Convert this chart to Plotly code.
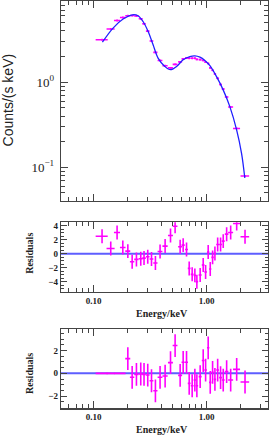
import plotly.graph_objects as go

# ---- data ----
energy = [0.1185, 0.1415, 0.161, 0.181, 0.2005, 0.219, 0.239, 0.261, 0.279, 0.301,
          0.325, 0.352, 0.387, 0.429, 0.479, 0.526, 0.583, 0.62, 0.664, 0.701,
          0.745, 0.787, 0.82, 0.877, 0.933, 0.98, 1.033, 1.077, 1.13, 1.185,
          1.253, 1.33, 1.404, 1.505, 1.634, 1.847, 2.19]
energy_halfwidth = [0.0145, 0.0116, 0.0099, 0.0103, 0.0102, 0.0098, 0.0107, 0.0107, 0.0102, 0.011,
                    0.0126, 0.0151, 0.019, 0.0228, 0.0244, 0.0258, 0.0238, 0.0202, 0.0203, 0.020,
                    0.0213, 0.0193, 0.0217, 0.0268, 0.0266, 0.026, 0.0253, 0.0242, 0.0277, 0.029,
                    0.0358, 0.038, 0.043, 0.0553, 0.0833, 0.132, 0.192]
counts = [3.15, 4.21, 5.31, 5.75, 6.03, 6.06, 5.99, 5.55, 4.85, 3.98,
          3.04, 2.24, 1.80, 1.56, 1.47, 1.62, 1.73, 1.88, 1.93, 1.91,
          1.91, 1.91, 1.85, 1.84, 1.80, 1.72, 1.66, 1.47, 1.38, 1.25,
          1.11, 0.94, 0.83, 0.67, 0.51, 0.286, 0.079]

model_energy = [0.1194, 0.1483, 0.182, 0.2204, 0.247, 0.2735, 0.3034, 0.3357, 0.3715, 0.4266,
                0.4786, 0.542, 0.620, 0.711, 0.787, 0.873, 0.966, 1.07, 1.225, 1.402,
                1.607, 1.845, 2.04, 2.18]
model_counts = [2.95, 4.32, 5.51, 6.19, 6.03, 5.16, 3.94, 2.75, 1.92, 1.53,
                1.40, 1.53, 1.83, 2.00, 2.04, 1.97, 1.80, 1.56, 1.16, 0.812,
                0.516, 0.275, 0.146, 0.0748]

resid1 = [2.5, 0.76, 3.05, 0.9, 0.38, -1.14, -0.81, -0.71, -0.62, -0.43,
          -0.76, -1.33, 0.33, 1.1, 2.62, 3.95, 1.0, 1.24, 0.62, -2.1,
          -2.95, -3.1, -4.0, -3.05, -1.62, -2.62, 0.24, -2.19, -0.52, 0.05,
          1.33, 1.33, 1.81, 2.81, 3.05, 4.33, 2.43]
resid1_err = [1] * 37

resid2 = [0, 0, 0, 0, 1.29, -0.35, -0.09, -0.06, -0.09, -0.15,
          -0.65, -1.53, -0.35, -0.24, 0.94, 2.44, -0.18, 0.97, 0.97, -0.88,
          -1.09, -0.59, -1.09, -0.29, 1.12, 0.29, 2.24, -0.79, 0.09, -0.53,
          0.29, -0.38, -0.59, 0.15, -0.59, 0.35, -0.76]
resid2_err = [0, 0, 0, 0] + [1] * 33

x_major = [0.1, 1]
x_major_text = ["0.10", "1.00"]
x_minor = [0.06, 0.07, 0.08, 0.09, 0.2, 0.3, 0.4, 0.5, 0.6, 0.7, 0.8, 0.9, 2, 3]
y_major = [0.1, 1]
y_major_text = ["10<sup>−1</sup>", "10<sup>0</sup>"]
y_minor = [0.05, 0.06, 0.07, 0.08, 0.09, 0.2, 0.3, 0.4, 0.5, 0.6, 0.7, 0.8, 0.9, 2, 3, 4, 5, 6, 7, 8, 9]

MAG = "#ff00ff"
BLUE = "#2020ff"
AX = "#444444"
SERIF = "Liberation Serif"

fig = go.Figure()

fig.add_trace(go.Scatter(
    x=energy, y=counts, mode="markers", marker=dict(size=1, color=MAG),
    error_x=dict(type="data", array=energy_halfwidth, color=MAG, thickness=1.6, width=0),
    error_y=dict(type="percent", value=2.5, color=MAG, thickness=1.6, width=0),
    xaxis="x", yaxis="y", showlegend=False))
fig.add_trace(go.Scatter(
    x=model_energy, y=model_counts, mode="lines", line=dict(color=BLUE, width=1.3, shape="spline"),
    xaxis="x", yaxis="y", showlegend=False))

fig.add_trace(go.Scatter(
    x=energy, y=resid1, mode="markers", marker=dict(size=1, color=MAG),
    error_x=dict(type="data", array=energy_halfwidth, color=MAG, thickness=1.6, width=0),
    error_y=dict(type="data", array=resid1_err, color=MAG, thickness=1.6, width=0),
    xaxis="x2", yaxis="y2", showlegend=False, cliponaxis=False))
fig.add_trace(go.Scatter(
    x=energy, y=resid2, mode="markers", marker=dict(size=1, color=MAG),
    error_x=dict(type="data", array=energy_halfwidth, color=MAG, thickness=1.6, width=0),
    error_y=dict(type="data", array=resid2_err, color=MAG, thickness=1.6, width=0),
    xaxis="x3", yaxis="y3", showlegend=False))

xr = [-1.29, 0.544]


def xax(show_labels, anchor, matches=None):
    d = dict(type="log", range=xr, anchor=anchor, domain=[0, 1],
             showline=True, linecolor=AX, linewidth=1.3, mirror="ticks",
             ticks="inside", ticklen=7, tickwidth=1, tickcolor=AX,
             tickvals=x_major, ticktext=x_major_text, showticklabels=show_labels,
             tickfont=dict(family=SERIF, size=9, color="#222", weight="bold"),
             minor=dict(tickvals=x_minor, ticks="inside", ticklen=4, tickcolor=AX, showgrid=False),
             showgrid=False, zeroline=False)
    if matches:
        d["matches"] = matches
    return d


fig.update_layout(
    width=269, height=436,
    margin=dict(l=61, r=1, t=0, b=0),
    paper_bgcolor="white", plot_bgcolor="white",
    hovermode=False,
    xaxis=xax(False, "y"),
    xaxis2=xax(True, "y2", "x"),
    xaxis3=xax(True, "y3", "x"),
    yaxis=dict(type="log", range=[-1.396, 0.955], domain=[0.539, 0.998], anchor="x",
               showline=True, linecolor=AX, linewidth=1.3, mirror="ticks",
               ticks="inside", ticklen=7, tickwidth=1, tickcolor=AX,
               tickvals=y_major, ticktext=y_major_text,
               tickfont=dict(family=SERIF, size=13, color="#222"), ticklabelstandoff=3,
               minor=dict(tickvals=y_minor, ticks="inside", ticklen=4, tickcolor=AX, showgrid=False),
               showgrid=False, zeroline=False),
    yaxis2=dict(range=[-5.5, 4.5], domain=[0.330, 0.490], anchor="x2",
                showline=True, linecolor=AX, linewidth=1.3, mirror="ticks",
                ticks="inside", ticklen=6, tickwidth=1, tickcolor=AX,
                tickvals=[-4, -2, 0, 2, 4],
                tickfont=dict(family=SERIF, size=9, color="#222", weight="bold"),
                minor=dict(dtick=0.5, ticks="inside", ticklen=3, tickcolor=AX, showgrid=False),
                showgrid=False, zeroline=False),
    yaxis3=dict(range=[-3.07, 3.89], domain=[0.0635, 0.2454], anchor="x3",
                showline=True, linecolor=AX, linewidth=1.3, mirror="ticks",
                ticks="inside", ticklen=6, tickwidth=1, tickcolor=AX,
                tickvals=[-2, 0, 2],
                tickfont=dict(family=SERIF, size=9, color="#222", weight="bold"),
                minor=dict(dtick=0.5, ticks="inside", ticklen=3, tickcolor=AX, showgrid=False),
                showgrid=False, zeroline=False),
    shapes=[
        dict(type="line", xref="x2 domain", x0=0, x1=1, yref="y2", y0=0, y1=0,
             line=dict(color="rgba(40,40,255,0.75)", width=2), layer="below"),
        dict(type="line", xref="x3 domain", x0=0, x1=1, yref="y3", y0=0, y1=0,
             line=dict(color="rgba(40,40,255,0.75)", width=2), layer="below"),
    ],
    annotations=[
        dict(text="Counts/(s keV)", xref="paper", yref="paper", x=-0.258, y=0.771,
             textangle=-90, showarrow=False, xanchor="center", yanchor="middle",
             font=dict(family="Liberation Sans", size=14, color="#222")),
        dict(text="<b>Residuals</b>", xref="paper", yref="paper", x=-0.15, y=0.42,
             textangle=-90, showarrow=False, xanchor="center", yanchor="middle",
             font=dict(family=SERIF, size=10, color="#222")),
        dict(text="<b>Residuals</b>", xref="paper", yref="paper", x=-0.15, y=0.1445,
             textangle=-90, showarrow=False, xanchor="center", yanchor="middle",
             font=dict(family=SERIF, size=10, color="#222")),
        dict(text="<b>Energy/keV</b>", xref="paper", yref="paper", x=(161.7 - 61) / 207, y=0.282,
             showarrow=False, xanchor="center", yanchor="middle",
             font=dict(family=SERIF, size=10, color="#222")),
        dict(text="<b>Energy/keV</b>", xref="paper", yref="paper", x=(161.7 - 61) / 207, y=0.0138,
             showarrow=False, xanchor="center", yanchor="middle",
             font=dict(family=SERIF, size=10, color="#222")),
    ],
)

fig.write_html("out.html",
               config={"displayModeBar": False, "staticPlot": True},
               post_script="document.body.style.margin='0';document.body.style.padding='0';")
